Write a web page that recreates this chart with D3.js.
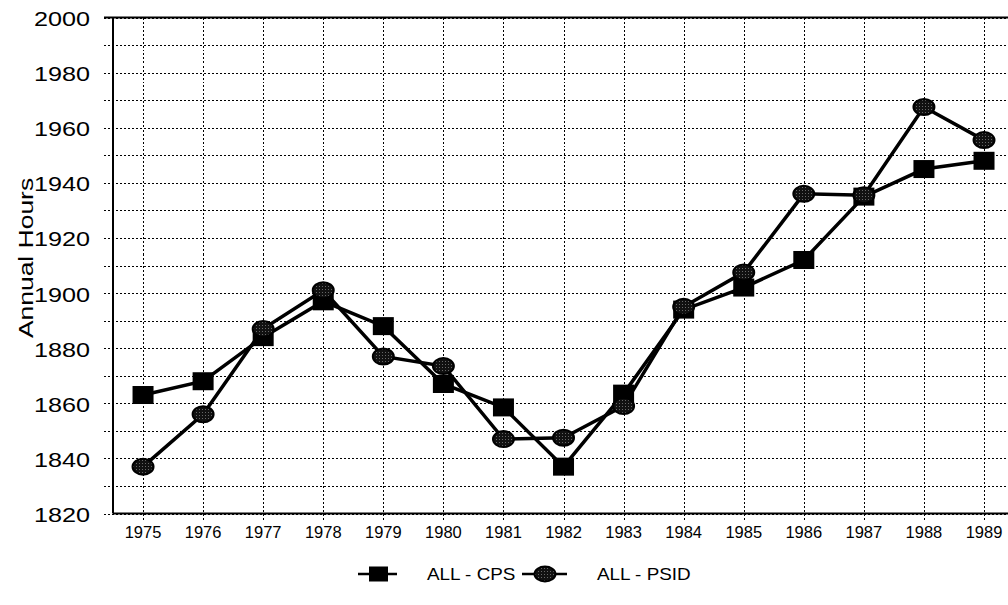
<!DOCTYPE html>
<html>
<head>
<meta charset="utf-8">
<script src="https://cdn.jsdelivr.net/npm/d3@7"></script>
<style>
  html, body { margin: 0; padding: 0; background: #fff; }
  svg { display: block; font-family: "Liberation Sans", Arial, Helvetica, sans-serif; }
</style>
</head>
<body>
<svg id="chart" width="1008" height="605"></svg>
<script>
// ---- data ----
const years = [1975, 1976, 1977, 1978, 1979, 1980, 1981, 1982, 1983, 1984, 1985, 1986, 1987, 1988, 1989];
const cpsValues  = [1863, 1868, 1884, 1897, 1888, 1867, 1858.5, 1837, 1863.5, 1894, 1902, 1912, 1935, 1945, 1948];
const psidValues = [1837, 1856, 1887, 1901, 1877, 1873.5, 1847, 1847.5, 1859, 1895, 1907.5, 1936, 1935.5, 1967.5, 1955.5];
const yTickLabels = [1820, 1840, 1860, 1880, 1900, 1920, 1940, 1960, 1980, 2000];
const seriesNames = ["ALL - CPS", "ALL - PSID"];
const yAxisTitle = "Annual Hours";

// ---- layout ----
const svg = d3.select("#chart");
const plotLeft = 113, plotTop = 17.5, plotBottom = 513.5, step = 60.07;

const x = d3.scaleBand().domain(years).range([plotLeft, plotLeft + step * years.length]).padding(0);
const cx = d => x(d) + x.bandwidth() / 2;
const y = d3.scaleLinear().domain([1820, 2000]).range([plotBottom, plotTop]);
const px = v => Math.round(v) + 0.5;

// ---- grid ----
const grid = svg.append("g").attr("shape-rendering", "crispEdges");
grid.selectAll("line.h").data(y.ticks(18)).join("line")
  .attr("class", "h")
  .attr("x1", 104).attr("x2", 1008)
  .attr("y1", d => px(y(d))).attr("y2", d => px(y(d)))
  .attr("stroke", "#000").attr("stroke-width", 1)
  .attr("stroke-dasharray", "2,2");
grid.selectAll("line.v").data(years).join("line")
  .attr("class", "v")
  .attr("x1", d => px(cx(d))).attr("x2", d => px(cx(d)))
  .attr("y1", plotTop).attr("y2", plotBottom + 7)
  .attr("stroke", "#000").attr("stroke-width", 1)
  .attr("stroke-dasharray", "2,2");

// frame lines
svg.append("line").attr("x1", 104).attr("x2", 1008).attr("y1", plotTop).attr("y2", plotTop)
  .attr("stroke", "#000").attr("stroke-width", 2);
svg.append("line").attr("x1", plotLeft).attr("x2", 1008).attr("y1", plotBottom).attr("y2", plotBottom)
  .attr("stroke", "#000").attr("stroke-width", 2);
svg.append("line").attr("x1", plotLeft).attr("x2", plotLeft).attr("y1", plotTop).attr("y2", plotBottom)
  .attr("stroke", "#000").attr("stroke-width", 2);

// ---- axes ----
const yAxis = svg.append("g").attr("transform", `translate(${plotLeft},0)`)
  .call(d3.axisLeft(y).tickValues(yTickLabels).tickFormat(d3.format("d")).tickSize(0).tickPadding(0));
yAxis.select(".domain").remove();
yAxis.selectAll("text")
  .attr("x", -23 / 1.2).attr("dy", "0.38em")
  .attr("transform", "scale(1.2,1)")
  .style("font-size", "21px").style("font-family", "'Liberation Sans', Arial, sans-serif")
  .attr("fill", "#000");

const xAxis = svg.append("g").attr("transform", `translate(0,${plotBottom})`)
  .call(d3.axisBottom(x).tickFormat(d3.format("d")).tickSize(0).tickPadding(13));
xAxis.select(".domain").remove();
xAxis.selectAll("text")
  .style("font-size", "16.5px").style("font-family", "'Liberation Sans', Arial, sans-serif")
  .attr("fill", "#000");

// y title
svg.append("text")
  .attr("transform", "translate(33,258) rotate(-90) scale(1.26,1)")
  .attr("text-anchor", "middle")
  .style("font-size", "21px")
  .attr("fill", "#000")
  .text(yAxisTitle);

// ---- lines ----
const line = d3.line().x((d, i) => cx(years[i])).y(d => y(d));
svg.append("path").datum(cpsValues).attr("d", line)
  .attr("fill", "none").attr("stroke", "#000").attr("stroke-width", 3.5);
svg.append("path").datum(psidValues).attr("d", line)
  .attr("fill", "none").attr("stroke", "#000").attr("stroke-width", 3.5);

// stipple pattern for circles
const defs = svg.append("defs");
const pat = defs.append("pattern").attr("id", "stip").attr("width", 3).attr("height", 3)
  .attr("patternUnits", "userSpaceOnUse");
pat.append("rect").attr("width", 3).attr("height", 3).attr("fill", "#111");
pat.append("rect").attr("x", 1).attr("y", 1).attr("width", 1).attr("height", 1).attr("fill", "#666");

// markers
svg.append("g").selectAll("rect").data(cpsValues).join("rect")
  .attr("x", (d, i) => cx(years[i]) - 10.5).attr("y", d => y(d) - 9)
  .attr("width", 21).attr("height", 18).attr("fill", "#000");
svg.append("g").selectAll("ellipse").data(psidValues).join("ellipse")
  .attr("cx", (d, i) => cx(years[i])).attr("cy", d => y(d))
  .attr("rx", 10.5).attr("ry", 8)
  .attr("fill", "url(#stip)").attr("stroke", "#000").attr("stroke-width", 2);

// ---- legend ----
const ly = 574;
const lg = svg.append("g");
lg.append("line").attr("x1", 358).attr("x2", 397).attr("y1", ly).attr("y2", ly)
  .attr("stroke", "#000").attr("stroke-width", 2.5);
lg.append("rect").attr("x", 369).attr("y", ly - 7.5).attr("width", 19).attr("height", 15).attr("fill", "#000");
lg.append("text").attr("transform", `translate(427,${ly}) scale(1.18,1)`)
  .attr("dy", "0.36em").style("font-size", "16px").attr("fill", "#000").text(seriesNames[0]);
lg.append("line").attr("x1", 522).attr("x2", 567).attr("y1", ly).attr("y2", ly)
  .attr("stroke", "#000").attr("stroke-width", 2.5);
lg.append("ellipse").attr("cx", 545).attr("cy", ly).attr("rx", 10.5).attr("ry", 7.5)
  .attr("fill", "url(#stip)").attr("stroke", "#000").attr("stroke-width", 2);
lg.append("text").attr("transform", `translate(597,${ly}) scale(1.18,1)`)
  .attr("dy", "0.36em").style("font-size", "16px").attr("fill", "#000").text(seriesNames[1]);
</script>
</body>
</html>
